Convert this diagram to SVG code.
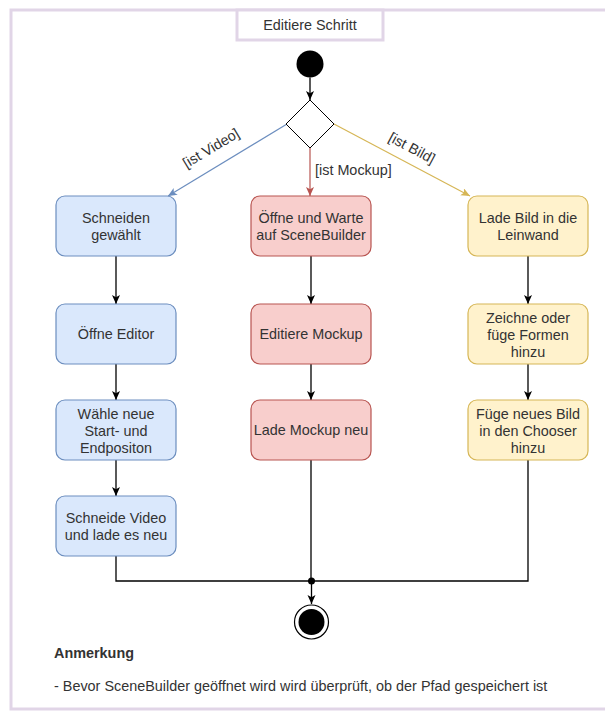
<svg xmlns="http://www.w3.org/2000/svg" width="605" height="711" viewBox="0 0 605 711">
  <style>
    text { font-family: "Liberation Sans", Arial, sans-serif; font-size: 14.4px; fill: #333333; }
    .c { text-anchor: middle; }
    .frame { fill: #ffffff; stroke: #e1d5e7; stroke-width: 3; }
    .blue { fill: #dae8fc; stroke: #6c8ebf; stroke-width: 1.2; }
    .red { fill: #f8cecc; stroke: #b85450; stroke-width: 1.2; }
    .yellow { fill: #fff2cc; stroke: #d6b656; stroke-width: 1.2; }
    .flow { fill: none; stroke: #000000; stroke-width: 1.3; }
    .bold { font-weight: bold; }
  </style>
  <defs>
    <marker id="arrow" markerUnits="userSpaceOnUse" markerWidth="10" markerHeight="9" refX="9" refY="4" orient="auto">
      <path d="M0,0 L9,4 L0,8 L2.2,4 Z" fill="#000000"/>
    </marker>
    <marker id="arrowBlue" markerUnits="userSpaceOnUse" markerWidth="10" markerHeight="9" refX="9" refY="4" orient="auto">
      <path d="M0,0 L9,4 L0,8 L2.2,4 Z" fill="#6c8ebf"/>
    </marker>
    <marker id="arrowRed" markerUnits="userSpaceOnUse" markerWidth="10" markerHeight="9" refX="9" refY="4" orient="auto">
      <path d="M0,0 L9,4 L0,8 L2.2,4 Z" fill="#b85450"/>
    </marker>
    <marker id="arrowYellow" markerUnits="userSpaceOnUse" markerWidth="10" markerHeight="9" refX="9" refY="4" orient="auto">
      <path d="M0,0 L9,4 L0,8 L2.2,4 Z" fill="#d6b656"/>
    </marker>
  </defs>

  <!-- activity frame -->
  <rect width="605" height="711" fill="#ffffff"/>
  <rect class="frame" x="11" y="10" width="620" height="699"/>
  <g id="title">
    <rect class="frame" x="237" y="10" width="146" height="30"/>
    <text class="c" x="310" y="30">Editiere Schritt</text>
  </g>

  <!-- connectors -->
  <g id="connectors">
    <line class="flow" x1="310" y1="77.5" x2="310" y2="100" marker-end="url(#arrow)"/>
    <line x1="287" y1="124" x2="168" y2="196" stroke="#6c8ebf" stroke-width="1.2" marker-end="url(#arrowBlue)"/>
    <line x1="310" y1="148" x2="310" y2="196" stroke="#b85450" stroke-width="1.2" marker-end="url(#arrowRed)"/>
    <line x1="334" y1="124" x2="470" y2="196" stroke="#d6b656" stroke-width="1.2" marker-end="url(#arrowYellow)"/>
    <text transform="translate(211,148) rotate(-31)" class="c" y="5">[ist Video]</text>
    <text x="315" y="175">[ist Mockup]</text>
    <text transform="translate(412,148) rotate(28)" class="c" y="5">[ist Bild]</text>

    <line class="flow" x1="116" y1="256" x2="116" y2="304" marker-end="url(#arrow)"/>
    <line class="flow" x1="116" y1="364" x2="116" y2="400" marker-end="url(#arrow)"/>
    <line class="flow" x1="116" y1="460" x2="116" y2="496" marker-end="url(#arrow)"/>

    <line class="flow" x1="311" y1="256" x2="311" y2="304" marker-end="url(#arrow)"/>
    <line class="flow" x1="311" y1="364" x2="311" y2="400" marker-end="url(#arrow)"/>

    <line class="flow" x1="528" y1="256" x2="528" y2="304" marker-end="url(#arrow)"/>
    <line class="flow" x1="528" y1="364" x2="528" y2="400" marker-end="url(#arrow)"/>

    <polyline class="flow" points="116,556 116,581 528,581 528,460"/>
    <line class="flow" x1="311" y1="460" x2="311" y2="581"/>
    <circle cx="311.5" cy="581" r="3.5" fill="#000000"/>
    <line class="flow" x1="311.5" y1="581" x2="311.5" y2="604" marker-end="url(#arrow)"/>
  </g>

  <!-- start / decision / end -->
  <g id="start">
    <circle cx="310" cy="64" r="13.5" fill="#000000"/>
  </g>
  <g id="decision">
    <polygon points="310,100 334,124 310,148 286,124" fill="#ffffff" stroke="#000000" stroke-width="1"/>
  </g>
  <g id="end">
    <circle cx="311.5" cy="622" r="17" fill="#ffffff" stroke="#000000" stroke-width="1.2"/>
    <circle cx="311.5" cy="622" r="13" fill="#000000"/>
  </g>

  <!-- video branch -->
  <g id="schneiden-gewaehlt">
    <rect class="blue" x="56" y="196" width="120" height="60" rx="9"/>
    <text class="c" x="116" y="223">Schneiden</text>
    <text class="c" x="116" y="240">gewählt</text>
  </g>
  <g id="oeffne-editor">
    <rect class="blue" x="56" y="304" width="120" height="60" rx="9"/>
    <text class="c" x="116" y="339">Öffne Editor</text>
  </g>
  <g id="waehle-position">
    <rect class="blue" x="56" y="400" width="120" height="60" rx="9"/>
    <text class="c" x="116" y="419">Wähle neue</text>
    <text class="c" x="116" y="436">Start- und</text>
    <text class="c" x="116" y="453">Endpositon</text>
  </g>
  <g id="schneide-video">
    <rect class="blue" x="56" y="496" width="120" height="60" rx="9"/>
    <text class="c" x="116" y="523">Schneide Video</text>
    <text class="c" x="116" y="540">und lade es neu</text>
  </g>

  <!-- mockup branch -->
  <g id="oeffne-scenebuilder">
    <rect class="red" x="251" y="196" width="120" height="60" rx="9"/>
    <text class="c" x="311" y="223">Öffne und Warte</text>
    <text class="c" x="311" y="240">auf SceneBuilder</text>
  </g>
  <g id="editiere-mockup">
    <rect class="red" x="251" y="304" width="120" height="60" rx="9"/>
    <text class="c" x="311" y="339">Editiere Mockup</text>
  </g>
  <g id="lade-mockup">
    <rect class="red" x="251" y="400" width="120" height="60" rx="9"/>
    <text class="c" x="311" y="435">Lade Mockup neu</text>
  </g>

  <!-- image branch -->
  <g id="lade-bild">
    <rect class="yellow" x="468" y="196" width="120" height="60" rx="9"/>
    <text class="c" x="528" y="223">Lade Bild in die</text>
    <text class="c" x="528" y="240">Leinwand</text>
  </g>
  <g id="zeichne-formen">
    <rect class="yellow" x="468" y="304" width="120" height="60" rx="9"/>
    <text class="c" x="528" y="323">Zeichne oder</text>
    <text class="c" x="528" y="340">füge Formen</text>
    <text class="c" x="528" y="357">hinzu</text>
  </g>
  <g id="fuege-bild">
    <rect class="yellow" x="468" y="400" width="120" height="60" rx="9"/>
    <text class="c" x="528" y="419">Füge neues Bild</text>
    <text class="c" x="528" y="436">in den Chooser</text>
    <text class="c" x="528" y="453">hinzu</text>
  </g>

  <!-- note -->
  <g id="note">
    <text class="bold" x="54" y="658">Anmerkung</text>
    <text x="54" y="691">- Bevor SceneBuilder geöffnet wird wird überprüft, ob der Pfad gespeichert ist</text>
  </g>
</svg>
